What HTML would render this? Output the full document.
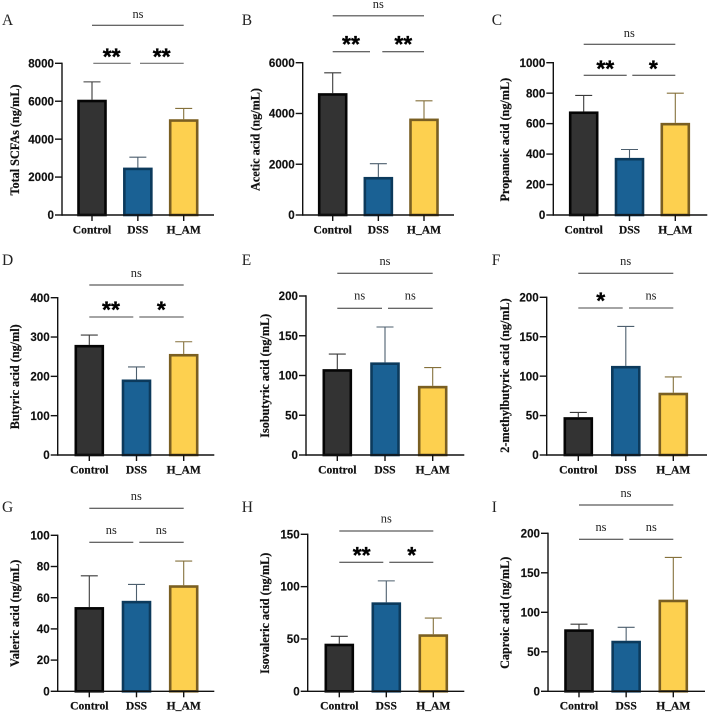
<!DOCTYPE html>
<html>
<head>
<meta charset="utf-8">
<title>Short-chain fatty acid bar charts</title>
<style>
html,body{margin:0;padding:0;background:#fff;width:708px;height:716px;overflow:hidden}
svg{display:block;filter:blur(0.35px)}
.letter{font:15.5px "Liberation Serif",serif;fill:#222}
.ytitle{font:bold 12.2px "Liberation Serif",serif;fill:#111;stroke:#111;stroke-width:.2;text-anchor:middle}
.ns{font:12.4px "Liberation Serif",serif;fill:#222;text-anchor:middle}
.star{font:bold 23px "Liberation Sans",sans-serif;fill:#000;stroke:#000;stroke-width:.3;text-anchor:middle}
.tick{font:bold 11.6px "Liberation Sans",sans-serif;fill:#111;stroke:#111;stroke-width:.15;text-anchor:end}
.cat{font:bold 11.6px "Liberation Serif",serif;fill:#111;stroke:#111;stroke-width:.2;text-anchor:middle}
.d{stroke:#333;stroke-width:1}
.g{stroke:#6e6e6e;stroke-width:1.2}
.t{stroke:#777;stroke-width:1.5}
</style>
</head>
<body>
<svg id="chart" width="708" height="716" viewBox="0 0 708 716" xmlns="http://www.w3.org/2000/svg">
<g id="panel-0">
<text class="letter" x="2" y="25">A</text>
<text class="ytitle" transform="translate(19,140) rotate(-90)">Total SCFAs (ng/mL)</text>
<line class="d" x1="92" x2="183.7" y1="25.3" y2="25.3"/>
<line class="g" x1="93.3" x2="130.7" y1="63.3" y2="63.3"/>
<line class="g" x1="140" x2="183.7" y1="63.3" y2="63.3"/>
<text class="ns" x="138" y="18">ns</text>
<text class="star" x="111.7" y="64.5">**</text>
<text class="star" x="161.7" y="64.5">**</text>
</g>
<g id="panel-1">
<text class="letter" x="241.7" y="25">B</text>
<text class="ytitle" transform="translate(259.7,139.5) rotate(-90)">Acetic acid (ng/mL)</text>
<line class="t" x1="332.7" x2="424" y1="15.7" y2="15.7"/>
<line class="d" x1="332.7" x2="370" y1="51.7" y2="51.7"/>
<line class="d" x1="382.3" x2="424" y1="51.7" y2="51.7"/>
<text class="ns" x="378.3" y="8">ns</text>
<text class="star" x="351" y="52.2">**</text>
<text class="star" x="403.3" y="52.2">**</text>
</g>
<g id="panel-2">
<text class="letter" x="491.7" y="25">C</text>
<text class="ytitle" transform="translate(509,139.7) rotate(-90)">Propanoic acid (ng/mL)</text>
<line class="d" x1="583.7" x2="675.3" y1="44.3" y2="44.3"/>
<line class="d" x1="583.7" x2="626.7" y1="75.3" y2="75.3"/>
<line class="d" x1="632.3" x2="675.3" y1="75.3" y2="75.3"/>
<text class="ns" x="629.3" y="37">ns</text>
<text class="star" x="605.3" y="76.5">**</text>
<text class="star" x="653.3" y="76.5">*</text>
</g>
<g id="panel-3">
<text class="letter" x="2" y="265">D</text>
<text class="ytitle" transform="translate(19,376.8) rotate(-90)">Butyric acid (ng/ml)</text>
<line class="d" x1="89.3" x2="183.7" y1="285" y2="285"/>
<line class="g" x1="89.3" x2="133.3" y1="317" y2="317"/>
<line class="g" x1="139.3" x2="183.7" y1="317" y2="317"/>
<text class="ns" x="136.3" y="277">ns</text>
<text class="star" x="111" y="317.5">**</text>
<text class="star" x="161.3" y="317.5">*</text>
</g>
<g id="panel-4">
<text class="letter" x="241.7" y="265">E</text>
<text class="ytitle" transform="translate(269,375.8) rotate(-90)">Isobutyric acid (ng/mL)</text>
<line class="d" x1="337.3" x2="432.7" y1="273.3" y2="273.3"/>
<line class="d" x1="337.3" x2="382" y1="308.3" y2="308.3"/>
<line class="d" x1="388" x2="432.7" y1="308.3" y2="308.3"/>
<text class="ns" x="385" y="265">ns</text>
<text class="ns" x="359.7" y="299.5">ns</text>
<text class="ns" x="410.3" y="299.5">ns</text>
</g>
<g id="panel-5">
<text class="letter" x="491.7" y="265">F</text>
<text class="ytitle" transform="translate(509,375.5) rotate(-90)">2-methylbutyric acid (ng/mL)</text>
<line class="d" x1="578.3" x2="673.3" y1="273.3" y2="273.3"/>
<line class="g" x1="578.3" x2="622.7" y1="308" y2="308"/>
<line class="g" x1="629" x2="673.3" y1="308" y2="308"/>
<text class="ns" x="625.7" y="265">ns</text>
<text class="star" x="600.7" y="308.5">*</text>
<text class="ns" x="651" y="299.5">ns</text>
</g>
<g id="panel-6">
<text class="letter" x="2" y="512">G</text>
<text class="ytitle" transform="translate(19,613.3) rotate(-90)">Valeric acid (ng/mL)</text>
<line class="d" x1="89.3" x2="183.7" y1="508.3" y2="508.3"/>
<line class="d" x1="89.3" x2="133.3" y1="542.3" y2="542.3"/>
<line class="d" x1="139.3" x2="183.7" y1="542.3" y2="542.3"/>
<text class="ns" x="136.3" y="500">ns</text>
<text class="ns" x="111.3" y="534">ns</text>
<text class="ns" x="161.3" y="534">ns</text>
</g>
<g id="panel-7">
<text class="letter" x="241.7" y="512">H</text>
<text class="ytitle" transform="translate(269,613.3) rotate(-90)">Isovaleric acid (ng/mL)</text>
<line class="d" x1="339.3" x2="433.3" y1="531" y2="531"/>
<line class="d" x1="339.3" x2="383.3" y1="562.3" y2="562.3"/>
<line class="d" x1="389.3" x2="433.3" y1="562.3" y2="562.3"/>
<text class="ns" x="386.3" y="522.5">ns</text>
<text class="star" x="361.7" y="563">**</text>
<text class="star" x="411.7" y="563">*</text>
</g>
<g id="panel-8">
<text class="letter" x="491.7" y="512">I</text>
<text class="ytitle" transform="translate(509,612.8) rotate(-90)">Caproic acid (ng/mL)</text>
<line class="t" x1="579" x2="673.3" y1="505" y2="505"/>
<line class="d" x1="579" x2="623.3" y1="539.3" y2="539.3"/>
<line class="d" x1="629.3" x2="673.3" y1="539.3" y2="539.3"/>
<text class="ns" x="626" y="497">ns</text>
<text class="ns" x="601" y="531">ns</text>
<text class="ns" x="651.3" y="531">ns</text>
</g>
</svg>
<script>
// ---- data ----
const categories = ["Control", "DSS", "H_AM"];
const panelNames = ["a", "b", "c", "d", "e", "f", "g", "h", "i"];
const means = [
  [6080, 2500, 5050],
  [4800, 1500, 3800],
  [680, 375, 605],
  [280, 192, 257],
  [108, 116.5, 87],
  [48, 113, 79],
  [54, 58, 68],
  [45.5, 85, 54.5],
  [78.5, 64, 116]
];
const errorTops = [
  [7020, 3050, 5620],
  [5600, 2020, 4500],
  [785, 430, 800],
  [305, 224, 288],
  [127, 161, 110],
  [54, 163, 99],
  [74, 68.5, 83.5],
  [52.5, 105.5, 70],
  [85, 81, 169.5]
];
const tickLabels = [
  [0, 2000, 4000, 6000, 8000],
  [0, 2000, 4000, 6000],
  [0, 200, 400, 600, 800, 1000],
  [0, 100, 200, 300, 400],
  [0, 50, 100, 150, 200],
  [0, 50, 100, 150, 200],
  [0, 20, 40, 60, 80, 100],
  [0, 50, 100, 150],
  [0, 50, 100, 150, 200]
];
// ---- layout (separate from data) ----
const axisLeft  = [62, 302.7, 553.3, 57.7, 306, 546.7, 57.7, 307.7, 548];
const axisRight = [214, 454, 707.3, 214.3, 464.3, 707, 214.3, 464.3, 705];
const plotBase  = [215, 215, 215, 455, 455, 455, 691.3, 691.3, 691.3];
const plotTop   = [63.3, 62.7, 62.7, 297.7, 296, 297.3, 535.3, 534.3, 533.3];
const slotFirst = [92, 332.7, 583.7, 89.3, 337.3, 578.3, 89.3, 339.3, 579];
const slotStep  = [45.85, 45.65, 45.8, 47.2, 47.7, 47.5, 47.2, 47, 47.15];
const barFill = ["#333333", "#1a6194", "#fdd04f"];
const barEdge = ["#050505", "#0c3a5c", "#7a5f22"];
const errEdge = ["#3a3a3a", "#4d5f6e", "#85713c"];
const barStroke = 2.6;

const NS = "http://www.w3.org/2000/svg";
function make(parent, tag, attrs) {
  const node = document.createElementNS(NS, tag);
  for (const k in attrs) node.setAttribute(k, attrs[k]);
  parent.appendChild(node);
  return node;
}
function yScale(p, value) {
  const labels = tickLabels[p];
  const maxV = labels[labels.length - 1];
  return plotBase[p] - (value / maxV) * (plotBase[p] - plotTop[p]);
}
function xScale(p, i) {
  return slotFirst[p] + i * slotStep[p];
}

panelNames.forEach(function (name, p) {
  const g = document.getElementById("panel-" + p);
  const base = plotBase[p];

  categories.forEach(function (cat, i) {
    const cx = xScale(p, i);
    const yMean = yScale(p, means[p][i]);
    const yErr = yScale(p, errorTops[p][i]);

    const stem = make(g, "line", {x1: cx, x2: cx, y1: yMean, y2: yErr, stroke: errEdge[i], "stroke-width": 1.1});
    
    

    const cap = make(g, "line", {x1: cx - 8.5, x2: cx + 8.5, y1: yErr, y2: yErr, stroke: errEdge[i], "stroke-width": 1.1});
    
    

    const bar = make(g, "rect", {x: cx - 13.5, y: yMean + barStroke / 2, width: 27, height: Math.max(0, base - yMean - barStroke / 2), fill: barFill[i], stroke: barEdge[i], "stroke-width": barStroke});
    
    

    const xt = make(g, "line", {x1: cx, x2: cx, y1: base, y2: base + 6, stroke: "#111", "stroke-width": 1.4});
    
    

    const lab = make(g, "text", {x: cx, y: base + 18.3, "class": "cat"});
    lab.textContent = cat;
    
    
  });

  const yAxis = make(g, "line", {x1: axisLeft[p], x2: axisLeft[p], y1: plotTop[p] - 0.7, y2: base + 0.7, stroke: "#111", "stroke-width": 1.4});
  
  

  const xAxis = make(g, "line", {x1: axisLeft[p], x2: axisRight[p], y1: base, y2: base, stroke: "#111", "stroke-width": 1.4});
  
  

  tickLabels[p].forEach(function (v) {
    const y = yScale(p, v);
    const t = make(g, "line", {x1: axisLeft[p] - 7, x2: axisLeft[p], y1: y, y2: y, stroke: "#111", "stroke-width": 1.4});
    
    

    const tl = make(g, "text", {x: axisLeft[p] - 8, y: y + 4.1, "class": "tick"});
    tl.textContent = v;
    
    
  });
});
</script>
</body>
</html>
